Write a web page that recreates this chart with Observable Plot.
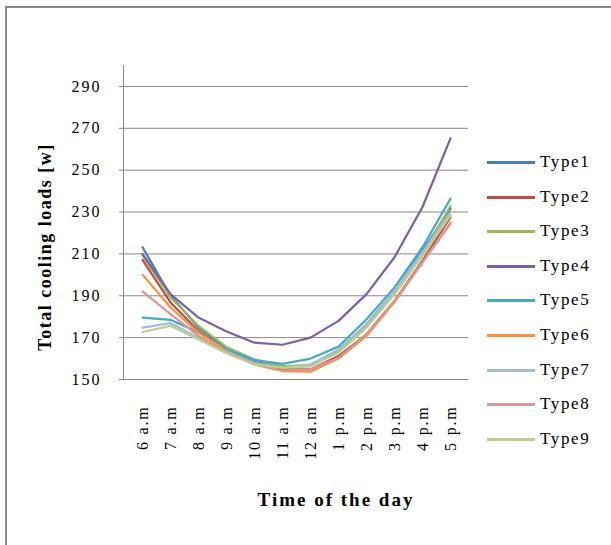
<!DOCTYPE html>
<html>
<head>
<meta charset="utf-8">
<script src="https://cdn.jsdelivr.net/npm/d3@7"></script>
<script src="https://cdn.jsdelivr.net/npm/@observablehq/plot@0.6"></script>
<style>
  html, body { margin: 0; padding: 0; background: #fff; }
  #wrap { position: relative; width: 611px; height: 545px; overflow: hidden; background: #fff; font-family: "Liberation Serif", "Times New Roman", serif; }
  #frame { position: absolute; left: 5px; top: 6px; width: 640px; height: 580px; border-left: 2px solid #8a8a8a; border-top: 2px solid #8a8a8a; box-sizing: border-box; }
  #chart { position: absolute; left: 0; top: 0; }
  #chart svg, #chart svg text { font-family: "Liberation Serif", "Times New Roman", serif !important; }
  g[aria-label="y-axis tick label"] text { letter-spacing: 2px; }
  g[aria-label="x-axis tick label"] text { letter-spacing: 1.8px; }
  .ytitle { position: absolute; left: 45px; top: 247px; transform: translate(-50%, -50%) rotate(-90deg); font-weight: bold; font-size: 18px; letter-spacing: 1.5px; white-space: nowrap; color: #000; }
  .xtitle { position: absolute; left: 336px; top: 500px; transform: translate(-50%, -50%); font-weight: bold; font-size: 19px; letter-spacing: 2px; white-space: nowrap; color: #000; }
  .legend { position: absolute; left: 487px; top: 0; }
  .legend .item { position: absolute; left: 0; height: 20px; width: 124px; transform: translateY(-50%); }
  .legend .swatch { position: absolute; left: 0; top: 9px; width: 48px; height: 3px; }
  .legend .lab { position: absolute; left: 53px; top: 0; font-size: 17px; letter-spacing: 1.6px; line-height: 20px; color: #000; }
</style>
</head>
<body>
<div id="wrap">
  <div id="frame"></div>
  <div id="chart"></div>
  <div class="ytitle">Total cooling loads [w]</div>
  <div class="xtitle">Time of the day</div>
  <div class="legend" id="legend"></div>
</div>
<script>
const times = ["6 a.m", "7 a.m", "8 a.m", "9 a.m", "10 a.m", "11 a.m", "12 a.m", "1 p.m", "2 p.m", "3 p.m", "4 p.m", "5 p.m"];
const types = ["Type1", "Type2", "Type3", "Type4", "Type5", "Type6", "Type7", "Type8", "Type9"];
const colors = ["#4A7EBB", "#BE4B48", "#98B954", "#7D60A0", "#46AAC5", "#F69240", "#A5B9DC", "#D99795", "#B9D08F"];
const yTicks = [150, 170, 190, 210, 230, 250, 270, 290];

const type1 = [213.2, 190.0, 174.8, 164.9, 158.8, 156.4, 156.4, 163.6, 176.4, 192.4, 211.6, 231.6];
const type2 = [207.1, 186.8, 173.2, 163.9, 158.0, 154.8, 154.8, 161.2, 171.6, 187.6, 206.8, 227.6];
const type3 = [209.2, 189.2, 175.6, 165.5, 159.6, 156.4, 156.9, 163.6, 175.6, 190.8, 210.0, 232.9];
const type4 = [210.0, 190.8, 179.6, 172.9, 167.6, 166.6, 170.0, 178.0, 190.8, 208.4, 232.4, 265.2];
const type5 = [179.6, 178.5, 172.4, 164.4, 159.3, 157.5, 160.0, 165.7, 178.8, 194.0, 213.2, 236.4];
const type6 = [200.1, 184.4, 172.4, 163.6, 157.2, 154.0, 153.7, 160.0, 170.8, 187.0, 206.0, 224.9];
const type7 = [174.8, 176.9, 170.0, 163.3, 158.0, 155.6, 157.2, 164.4, 176.4, 192.4, 210.8, 230.0];
const type8 = [192.1, 181.2, 170.8, 162.8, 157.5, 154.3, 154.8, 160.4, 171.6, 187.6, 206.0, 224.4];
const type9 = [172.7, 175.6, 169.2, 162.5, 157.2, 155.6, 156.4, 162.8, 174.8, 190.8, 209.2, 228.4];

const seriesValues = [type1, type2, type3, type4, type5, type6, type7, type8, type9];
const data = [];
types.forEach((t, i) => seriesValues[i].forEach((v, j) => data.push({type: t, time: times[j], value: v})));

const chart = Plot.plot({
  width: 611,
  height: 545,
  marginLeft: 123,
  marginRight: 143,
  marginTop: 65,
  marginBottom: 166,
  style: {fontFamily: "'Liberation Serif', 'Times New Roman', serif", fontSize: "16px", color: "#000", background: "transparent"},
  x: {type: "point", domain: times, padding: 0.5},
  y: {domain: [150, 300]},
  color: {domain: types, range: colors},
  marks: [
    Plot.gridY(yTicks, {stroke: "#888", strokeOpacity: 1, strokeWidth: 1}),
    Plot.axisY(yTicks, {tickSize: 4, tickPadding: 18, stroke: "#888", label: null}),
    Plot.axisX({tickSize: 0, tickPadding: 26, tickRotate: -90, label: null}),
    Plot.frame({anchor: "left", stroke: "#888"}),
    Plot.ruleY([150], {stroke: "#888"}),
    Plot.line(data, {x: "time", y: "value", z: "type", stroke: "type", strokeWidth: 2.2, strokeLinejoin: "round"})
  ]
});
document.getElementById("chart").appendChild(chart);

const legend = document.getElementById("legend");
types.forEach((t, i) => {
  const item = document.createElement("div");
  item.className = "item";
  item.style.top = (162 + i * 34.6) + "px";
  const sw = document.createElement("div");
  sw.className = "swatch";
  sw.style.background = colors[i];
  const lab = document.createElement("div");
  lab.className = "lab";
  lab.textContent = t;
  item.appendChild(sw);
  item.appendChild(lab);
  legend.appendChild(item);
});
</script>
</body>
</html>
